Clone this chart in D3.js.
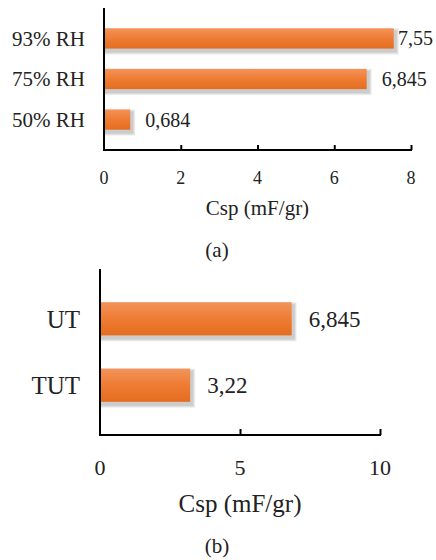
<!DOCTYPE html>
<html><head><meta charset="utf-8">
<script src="https://cdn.jsdelivr.net/npm/d3@7"></script>
</head>
<body style="margin:0">
<script>
// Data
const catsA = ["93% RH", "75% RH", "50% RH"];
const valsA = [7.55, 6.845, 0.684];
const labelsA = ["7,55", "6,845", "0,684"];
const ticksA = [0, 2, 4, 6, 8];

const catsB = ["UT", "TUT"];
const valsB = [6.845, 3.22];
const labelsB = ["6,845", "3,22"];
const ticksB = [0, 5, 10];

const FONT = "'Liberation Serif', 'Times New Roman', Tinos, serif";
const W = 436, H = 560;
const svg = d3.select("body").append("svg").attr("width", W).attr("height", H);
const defs = svg.append("defs");
const grad = defs.append("linearGradient").attr("id", "barGrad")
  .attr("x1", 0).attr("y1", 0).attr("x2", 0).attr("y2", 1);
grad.append("stop").attr("offset", "0%").attr("stop-color", "#F3935A");
grad.append("stop").attr("offset", "50%").attr("stop-color", "#EE7C33");
grad.append("stop").attr("offset", "100%").attr("stop-color", "#E46D1F");

function txt(sel) {
  return sel.attr("font-family", FONT).attr("fill", "#222");
}

function panel(o) {
  const x = d3.scaleLinear().domain(o.domain).range([o.left, o.right]);
  const y = d3.scaleBand().domain(o.cats).range([o.top, o.bottom]).padding(o.pad);
  const g = svg.append("g");
  // soft shadows (layered translucent rects)
  [3, 2, 1].forEach(s => {
    g.selectAll(null).data(o.vals).enter().append("rect")
      .attr("x", x(0) + 2 - s).attr("y", (d, i) => y(o.cats[i]) + 3 - s)
      .attr("width", d => x(d) - x(0) + 2 * s).attr("height", y.bandwidth() + 2 * s)
      .attr("fill", "#000").attr("opacity", 0.07);
  });
  // bars
  g.selectAll(null).data(o.vals).enter().append("rect")
    .attr("x", x(0)).attr("y", (d, i) => y(o.cats[i]))
    .attr("width", d => x(d) - x(0)).attr("height", y.bandwidth())
    .attr("fill", "url(#barGrad)");
  // x axis ticks (pointing inward)
  const ax = g.append("g").attr("transform", `translate(0,${o.bottom})`)
    .call(d3.axisBottom(x).tickValues(o.ticks).tickSize(-o.tickLen).tickFormat(d => d));
  ax.select(".domain").remove();
  ax.selectAll(".tick line").attr("stroke", "#000").attr("stroke-width", 2)
    .filter(d => d === 0).remove();
  ax.selectAll(".tick text").remove();
  txt(g.selectAll(null).data(o.ticks).enter().append("text"))
    .attr("x", d => x(d)).attr("y", o.tickY).attr("text-anchor", "middle")
    .attr("font-size", o.tickFs).text(d => d);
  // axis lines
  g.append("line").attr("x1", x(0)).attr("x2", x(0)).attr("y1", o.top).attr("y2", o.bottom + 1)
    .attr("stroke", "#000").attr("stroke-width", 2);
  g.append("line").attr("x1", x(0) - 1).attr("x2", o.right + 1).attr("y1", o.bottom).attr("y2", o.bottom)
    .attr("stroke", "#000").attr("stroke-width", 2);
  // category labels
  txt(g.selectAll(null).data(o.cats).enter().append("text"))
    .attr("x", x(0) - o.catGap).attr("y", d => y(d) + y.bandwidth() / 2).attr("dy", "0.35em")
    .attr("text-anchor", "end").attr("font-size", o.catFs).text(d => d);
  // value labels (outside end, kept inside the picture)
  txt(g.selectAll(null).data(o.vals).enter().append("text"))
    .attr("y", (d, i) => y(o.cats[i]) + y.bandwidth() / 2).attr("dy", "0.35em")
    .attr("font-size", o.valFs).text((d, i) => o.labels[i])
    .attr("x", (d, i) => Math.min(x(d) + o.valGap, W - 2 - o.labels[i].length * o.valFs * 0.45));
  // titles
  txt(g.append("text")).attr("x", (o.left + o.right) / 2).attr("y", o.titleY).attr("text-anchor", "middle")
    .attr("font-size", o.titleFs).text("Csp (mF/gr)");
  txt(g.append("text")).attr("x", 217).attr("y", o.capY).attr("text-anchor", "middle")
    .attr("font-size", o.capFs).text(o.cap);
}

panel({cats: catsA, vals: valsA, labels: labelsA, ticks: ticksA, domain: [0, 8],
  left: 104, right: 411, top: 8, bottom: 150, pad: 0.5, tickLen: 5,
  tickY: 184, tickFs: 18, catGap: 19, catFs: 21, valGap: 15, valFs: 20,
  titleY: 215, titleFs: 21, capY: 257, capFs: 21, cap: "(a)"});

panel({cats: catsB, vals: valsB, labels: labelsB, ticks: ticksB, domain: [0, 10],
  left: 100, right: 380, top: 269, bottom: 435, pad: 0.5, tickLen: 6,
  tickY: 475, tickFs: 22, catGap: 20, catFs: 25, valGap: 17, valFs: 23,
  titleY: 512, titleFs: 25, capY: 553, capFs: 21, cap: "(b)"});
</script>
</body></html>
